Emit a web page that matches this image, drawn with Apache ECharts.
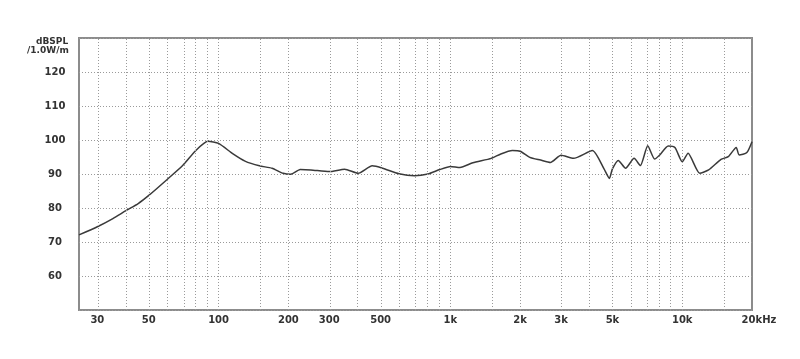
<!DOCTYPE html>
<html>
<head>
<meta charset="utf-8">
<script src="https://cdn.jsdelivr.net/npm/echarts@6/dist/echarts.min.js"></script>
<style>
html,body{margin:0;padding:0;background:#fff;}
#chart{width:800px;height:359px;}
</style>
</head>
<body>
<div id="chart"></div>
<script>
// Frequency (Hz) and SPL (dB)
const freqs = [25, 30, 35, 40, 45, 50, 60, 70, 80, 90, 100, 115, 130, 150, 170, 190, 205, 225, 250, 300, 350, 400, 460, 510, 600, 700, 800, 900, 1000, 1100, 1250, 1500, 1650, 1850, 2000, 2200, 2450, 2700, 3000, 3400, 4100, 4600, 4850, 5000, 5300, 5700, 6200, 6600, 7100, 7600, 8000, 8700, 9300, 10000, 10600, 11900, 13000, 14700, 15800, 17100, 17600, 19000, 20000];
const spl = [72.1, 74.5, 76.9, 79.3, 81.3, 83.7, 88.4, 92.5, 97.0, 99.6, 99.0, 96.0, 93.8, 92.4, 91.7, 90.2, 89.9, 91.3, 91.2, 90.7, 91.4, 90.2, 92.4, 91.7, 90.1, 89.5, 90.0, 91.3, 92.2, 91.9, 93.3, 94.6, 95.9, 96.9, 96.7, 94.9, 94.1, 93.4, 95.5, 94.6, 96.9, 91.5, 88.7, 91.5, 94.0, 91.7, 94.6, 92.5, 98.3, 94.4, 95.6, 98.2, 97.8, 93.6, 96.1, 90.2, 91.2, 94.3, 95.1, 97.8, 95.6, 96.3, 99.5];

const xLabelFreqs = [30, 50, 100, 200, 300, 500, 1000, 2000, 3000, 5000, 10000, 20000];
const xGridFreqs = [30, 40, 50, 60, 70, 80, 90, 100, 150, 200, 300, 400, 500, 600, 700, 800, 900, 1000, 1500, 2000, 3000, 4000, 5000, 6000, 7000, 8000, 9000, 10000, 15000];
const yLabels = [60, 70, 80, 90, 100, 110, 120];
const xMinFreq = 25, xMaxFreq = 20000, yMin = 50, yMax = 130;

const lg = f => Math.log10(f);
const gridColor = '#9a9a9a';
const fontFamily = 'DejaVu Sans';

const chart = echarts.init(document.getElementById('chart'));
chart.setOption({
  animation: false,
  backgroundColor: '#fff',
  grid: {left: 79, right: 48, top: 38, bottom: 49, show: true, borderColor: '#8c8c8c', borderWidth: 2, backgroundColor: 'transparent'},
  xAxis: {
    type: 'value', min: lg(xMinFreq), max: lg(xMaxFreq),
    axisLine: {show: false}, axisTick: {show: false}, splitLine: {show: false},
    axisLabel: {
      customValues: xLabelFreqs.map(lg),
      margin: 5,
      color: '#333', fontFamily: fontFamily, fontWeight: 'bold', fontSize: 10,
      formatter: v => {
        const f = Math.round(Math.pow(10, v));
        if (f === 20000) return '{p|}20kHz';
        return f >= 1000 ? (f / 1000) + 'k' : String(f);
      },
      rich: {p: {width: 14}}
    }
  },
  yAxis: {
    type: 'value', min: yMin, max: yMax, interval: 10,
    axisLine: {show: false}, axisTick: {show: false},
    splitLine: {show: true, lineStyle: {color: gridColor, type: [1, 2], width: 1}},
    axisLabel: {
      align: 'center', margin: 24,
      color: '#333', fontFamily: fontFamily, fontWeight: 'bold', fontSize: 10,
      formatter: v => yLabels.indexOf(v) >= 0 ? String(v) : ''
    }
  },
  graphic: [
    {type: 'text', left: 36, top: 37, style: {text: 'dBSPL', fill: '#333', font: 'bold 9px DejaVu Sans'}},
    {type: 'text', left: 27, top: 46, style: {text: '/1.0W/m', fill: '#333', font: 'bold 9px DejaVu Sans'}}
  ],
  series: [
    {
      type: 'line', data: [], z: 1, silent: true,
      markLine: {
        silent: true, symbol: 'none', label: {show: false},
        lineStyle: {color: gridColor, type: [1, 2], width: 1},
        data: xGridFreqs.map(f => ({xAxis: lg(f)}))
      }
    },
    {
      type: 'line', z: 3, showSymbol: false, smooth: 0.2,
      lineStyle: {color: '#3a3a3a', width: 1.5},
      data: freqs.map((f, i) => [lg(f), spl[i]])
    }
  ]
});
</script>
</body>
</html>
